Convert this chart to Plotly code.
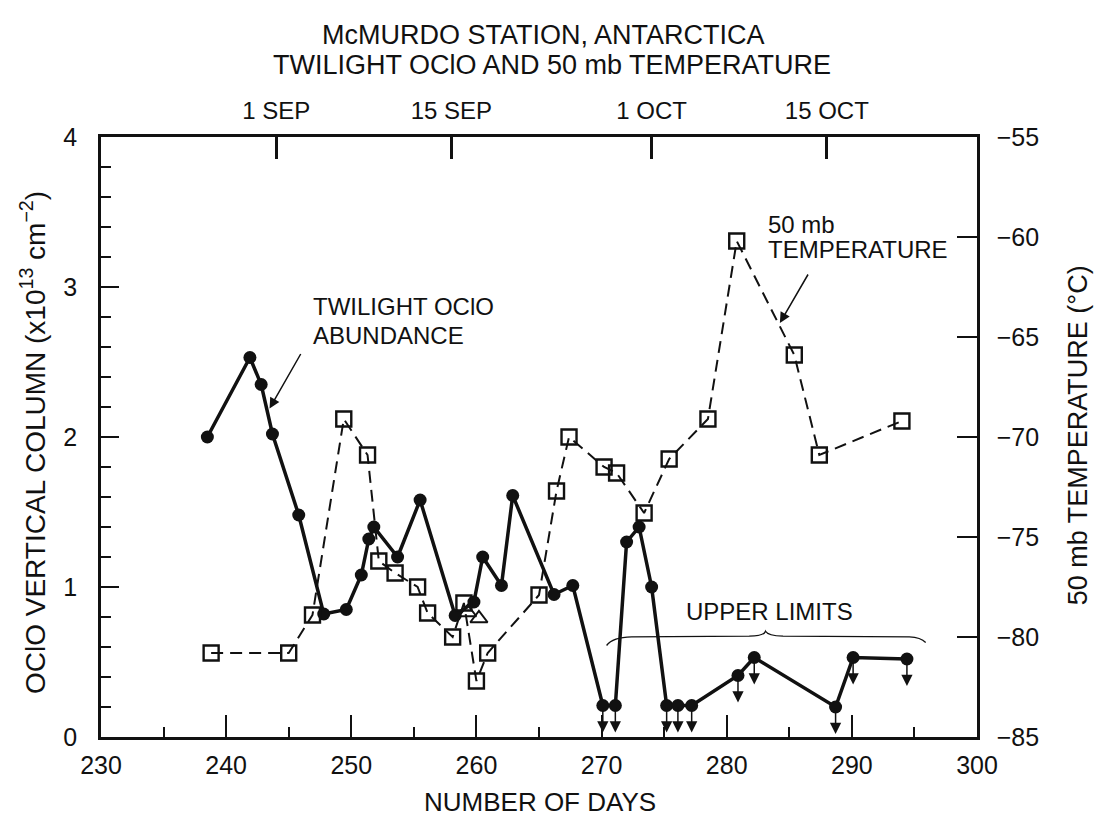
import plotly.graph_objects as go

# ---------------- data ----------------
oclo_day = [238.5, 241.9, 242.8, 243.7, 245.8, 247.8, 249.6, 250.8, 251.4, 251.8,
            253.7, 255.5, 258.3, 259.8, 260.5, 262.0, 262.9, 266.2, 267.7, 270.1,
            271.1, 272.0, 273.0, 274.0, 275.2, 276.1, 277.2, 280.9, 282.2, 288.7,
            290.1, 294.4]
oclo_val = [2.00, 2.53, 2.35, 2.02, 1.48, 0.82, 0.85, 1.08, 1.32, 1.40,
            1.20, 1.58, 0.81, 0.90, 1.20, 1.01, 1.61, 0.95, 1.01, 0.21,
            0.21, 1.30, 1.40, 1.00, 0.21, 0.21, 0.21, 0.41, 0.53, 0.20,
            0.53, 0.52]
upper_limit = [False] * 19 + [True, True, False, False, False,
                              True, True, True, True, True, True, True, True]

temp_day = [238.8, 245.0, 246.9, 249.4, 251.3, 252.2, 253.5, 255.3, 256.1, 258.1,
            259.0, 260.0, 260.9, 265.0, 266.4, 267.4, 270.2, 271.2, 273.4, 275.4,
            278.5, 280.8, 285.4, 287.4, 294.0]
temp_val = [-80.8, -80.8, -78.9, -69.1, -70.9, -76.2, -76.8, -77.5, -78.8, -80.0,
            -78.3, -82.2, -80.8, -77.9, -72.7, -70.0, -71.5, -71.8, -73.8, -71.1,
            -69.1, -60.2, -65.9, -70.9, -69.2]

tri_day = [259.3, 260.2]
tri_val = [0.83, 0.79]

date_days = [244, 258, 274, 288]
date_labels = ["1 SEP", "15 SEP", "1 OCT", "15 OCT"]

FONT = "Liberation Sans, Arial, Helvetica, sans-serif"
BLACK = "#111111"

fig = go.Figure()

fig.add_trace(go.Scatter(
    x=tri_day, y=tri_val, mode="markers",
    marker=dict(symbol="triangle-up-open", size=15, color=BLACK, line=dict(width=2, color=BLACK)),
    showlegend=False, hoverinfo="skip"))

fig.add_trace(go.Scatter(
    x=temp_day, y=temp_val, yaxis="y2", mode="lines+markers",
    line=dict(color=BLACK, width=2, dash="12px,7px"),
    marker=dict(symbol="square-open", size=15, color=BLACK, line=dict(width=2.4, color=BLACK)),
    showlegend=False, hoverinfo="skip"))

fig.add_trace(go.Scatter(
    x=oclo_day, y=oclo_val, mode="lines+markers",
    line=dict(color=BLACK, width=3.5),
    marker=dict(symbol="circle", size=13, color=BLACK),
    showlegend=False, hoverinfo="skip"))

# invisible carrier so the top (date) axis is drawn
fig.add_trace(go.Scatter(
    x=date_days, y=[None] * len(date_days), xaxis="x2", mode="markers",
    marker=dict(opacity=0), showlegend=False, hoverinfo="skip"))

# plot geometry (px) used for arrow offsets
PLOT_H = 600
PX_PER_UNIT = PLOT_H / 4.0
ARROW_PX = 27

annotations = []
for d, v, ul in zip(oclo_day, oclo_val, upper_limit):
    if ul:
        annotations.append(dict(
            x=d, y=v - ARROW_PX / PX_PER_UNIT, xref="x", yref="y",
            ax=0, ay=-ARROW_PX, showarrow=True, arrowhead=2, arrowsize=1.5,
            arrowwidth=1.5, arrowcolor=BLACK, text=""))


def label(x, y, text, size=24, xref="x", yref="y", xanchor="left", angle=0):
    return dict(x=x, y=y, xref=xref, yref=yref, text=text, showarrow=False,
                xanchor=xanchor, yanchor="middle", textangle=angle,
                font=dict(size=size, family=FONT, color=BLACK))


annotations += [
    label(246.8, 2.87, "TWILIGHT OClO"),
    label(246.8, 2.68, "ABUNDANCE"),
    dict(x=243.47, y=2.19, xref="x", yref="y", ax=32, ay=-56, text="", showarrow=True,
         arrowhead=2, arrowsize=1.4, arrowwidth=1.5, arrowcolor=BLACK),
    label(283.1, 3.42, "50 mb"),
    label(283.1, 3.25, "TEMPERATURE"),
    dict(x=284.25, y=2.76, xref="x", yref="y", ax=29, ay=-50, text="", showarrow=True,
         arrowhead=2, arrowsize=1.4, arrowwidth=1.5, arrowcolor=BLACK),
    label(283.4, 0.84, "UPPER LIMITS", xanchor="center"),
    # titles
    label(0.505, 1.17, "McMURDO STATION, ANTARCTICA", size=27,
          xref="paper", yref="paper", xanchor="center"),
    label(0.515, 1.12, "TWILIGHT OClO AND 50 mb TEMPERATURE", size=27,
          xref="paper", yref="paper", xanchor="center"),
    label(0.501, -0.108, "NUMBER OF DAYS", size=26,
          xref="paper", yref="paper", xanchor="center"),
    label(-0.0776, 0.49, "OClO VERTICAL COLUMN (x10<sup>13</sup> cm<sup>−2</sup>)", size=28,
          xref="paper", yref="paper", xanchor="center", angle=-90),
    label(1.1153, 0.503, "50 mb TEMPERATURE (°C)", size=27,
          xref="paper", yref="paper", xanchor="center", angle=-90),
]

# brace over the upper limits
brace = ("M 270.4,0.61 Q 270.9,0.665 272.4,0.667 L 281.8,0.672 "
         "Q 283.0,0.675 283.1,0.705 Q 283.3,0.675 284.5,0.672 "
         "L 294.6,0.668 Q 295.5,0.665 295.9,0.63")

fig.update_layout(
    width=1094, height=819,
    margin=dict(l=101, r=117, t=137, b=82),
    paper_bgcolor="white", plot_bgcolor="white",
    font=dict(family=FONT, size=25, color=BLACK),
    annotations=annotations,
    shapes=[dict(type="path", path=brace, xref="x", yref="y",
                 line=dict(color=BLACK, width=1.3))],
    xaxis=dict(range=[230, 300], dtick=10, tick0=230, ticks="inside", ticklen=22,
               tickwidth=2, tickcolor=BLACK, showline=True, linewidth=2.5, linecolor=BLACK,
               showgrid=False, zeroline=False, ticklabelstandoff=4,
               tickfont=dict(size=25, family=FONT, color=BLACK),
               minor=dict(dtick=5, tick0=230, ticks="inside", ticklen=10, tickwidth=2,
                          tickcolor=BLACK, showgrid=False)),
    xaxis2=dict(range=[230, 300], overlaying="x", side="top", anchor="y",
                tickmode="array", tickvals=date_days, ticktext=date_labels,
                ticks="inside", ticklen=22, tickwidth=2.5, tickcolor=BLACK,
                showline=True, linewidth=2.5, linecolor=BLACK,
                showgrid=False, zeroline=False, ticklabelstandoff=6,
                tickfont=dict(size=24, family=FONT, color=BLACK)),
    yaxis=dict(range=[0, 4], dtick=1, ticks="inside", ticklen=18, tickwidth=2,
               tickcolor=BLACK, showline=True, linewidth=2.5, linecolor=BLACK,
               showgrid=False, zeroline=False, ticklabelstandoff=16,
               tickfont=dict(size=25, family=FONT, color=BLACK),
               minor=dict(dtick=0.2, ticks="inside", ticklen=10, tickwidth=2,
                          tickcolor=BLACK, showgrid=False)),
    yaxis2=dict(range=[-85, -55], dtick=5, overlaying="y", side="right", anchor="x",
                ticks="inside", ticklen=20, tickwidth=2, tickcolor=BLACK,
                showline=True, linewidth=2.5, linecolor=BLACK, showgrid=False,
                zeroline=False, ticklabelstandoff=12,
                tickfont=dict(size=25, family=FONT, color=BLACK)),
)

fig.write_html("out.html", config={"displayModeBar": False},
               post_script="document.body.style.margin='0';document.body.style.padding='0';"
                           "document.body.style.overflow='hidden';")
